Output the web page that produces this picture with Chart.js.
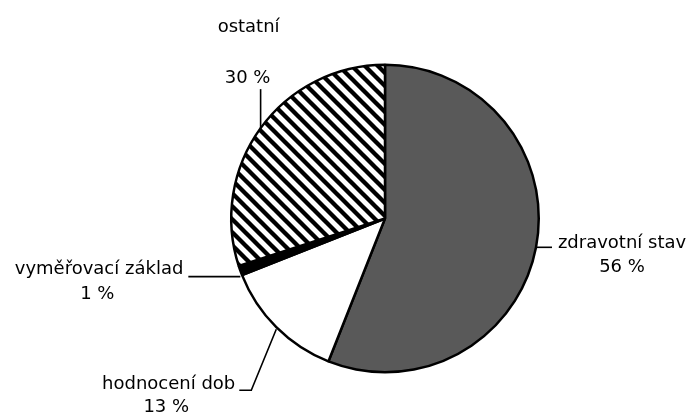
<!DOCTYPE html>
<html>
<head>
<meta charset="utf-8">
<script src="https://cdn.jsdelivr.net/npm/chart.js@4.4.0/dist/chart.umd.min.js"></script>
<style>
    html, body { margin: 0; padding: 0; background: #fff; }
    #wrap { width: 690px; height: 417px; }
</style>
</head>
<body>
<div id="wrap"><canvas id="pieChart"></canvas></div>
<script>
const labels = ["zdravotní stav", "hodnocení dob", "vyměřovací základ", "ostatní"];
const shares = [56, 13, 1, 30];

function stripePattern() {
    const t = 13;
    const c = document.createElement("canvas");
    c.width = t;
    c.height = t;
    const g = c.getContext("2d");
    g.fillStyle = "#fff";
    g.fillRect(0, 0, t, t);
    g.strokeStyle = "#000";
    g.lineWidth = 4.3;
    g.beginPath();
    for (let k = -2; k <= 2; k++) {
        g.moveTo(k * t - t, -t);
        g.lineTo(k * t + 2 * t, 2 * t);
    }
    g.stroke();
    return g.createPattern(c, "repeat");
}

const fillColors = ["#595959", "#ffffff", "#000000", stripePattern()];

// labels + leader lines, placed relative to each slice's mid-angle edge point
const labelPlugin = {
    id: "pieLabels",
    afterDatasetsDraw(chart) {
        const ctx = chart.ctx;
        const arcs = chart.getDatasetMeta(0).data;
        ctx.save();
        ctx.font = "18px 'DejaVu Sans'";
        ctx.fillStyle = "#000";
        ctx.strokeStyle = "#000";
        ctx.lineWidth = 1.6;
        ctx.textBaseline = "middle";
        arcs.forEach((arc, i) => {
            const mid = (arc.startAngle + arc.endAngle) / 2;
            const r = arc.outerRadius;
            const px = arc.x + Math.cos(mid) * r;
            const py = arc.y + Math.sin(mid) * r;
            const pct = shares[i] + " %";
            ctx.beginPath();
            if (i === 0) {
                ctx.moveTo(px + 1, py);
                ctx.lineTo(px + 16, py);
                ctx.stroke();
                ctx.textAlign = "center";
                ctx.fillText(labels[i], px + 86, py - 4);
                ctx.fillText(pct, px + 86, py + 20);
            } else if (i === 1) {
                ctx.moveTo(px, py + 2);
                ctx.lineTo(px - 25, py + 63);
                ctx.lineTo(px - 37, py + 63);
                ctx.stroke();
                ctx.textAlign = "right";
                ctx.fillText(labels[i], px - 41, py + 57);
                ctx.textAlign = "center";
                ctx.fillText(pct, px - 110, py + 80);
            } else if (i === 2) {
                ctx.moveTo(px, py + 6);
                ctx.lineTo(px - 52, py + 6);
                ctx.stroke();
                ctx.textAlign = "right";
                ctx.fillText(labels[i], px - 57, py - 1);
                ctx.textAlign = "center";
                ctx.fillText(pct, px - 143, py + 24);
            } else {
                ctx.moveTo(px, py);
                ctx.lineTo(px, py - 39);
                ctx.stroke();
                ctx.textAlign = "center";
                ctx.fillText(labels[i], px - 12, py - 101);
                ctx.fillText(pct, px - 13, py - 50);
            }
        });
        ctx.restore();
    }
};

new Chart(document.getElementById("pieChart"), {
    type: "pie",
    data: {
        labels: labels,
        datasets: [{
            data: shares,
            backgroundColor: fillColors,
            borderColor: "#000",
            borderWidth: 2.5
        }]
    },
    options: {
        responsive: true,
        maintainAspectRatio: false,
        animation: false,
        layout: {
            padding: { left: 230, right: 150, top: 63, bottom: 43 }
        },
        plugins: {
            legend: { display: false },
            tooltip: { enabled: false }
        }
    },
    plugins: [labelPlugin]
});
</script>
</body>
</html>
